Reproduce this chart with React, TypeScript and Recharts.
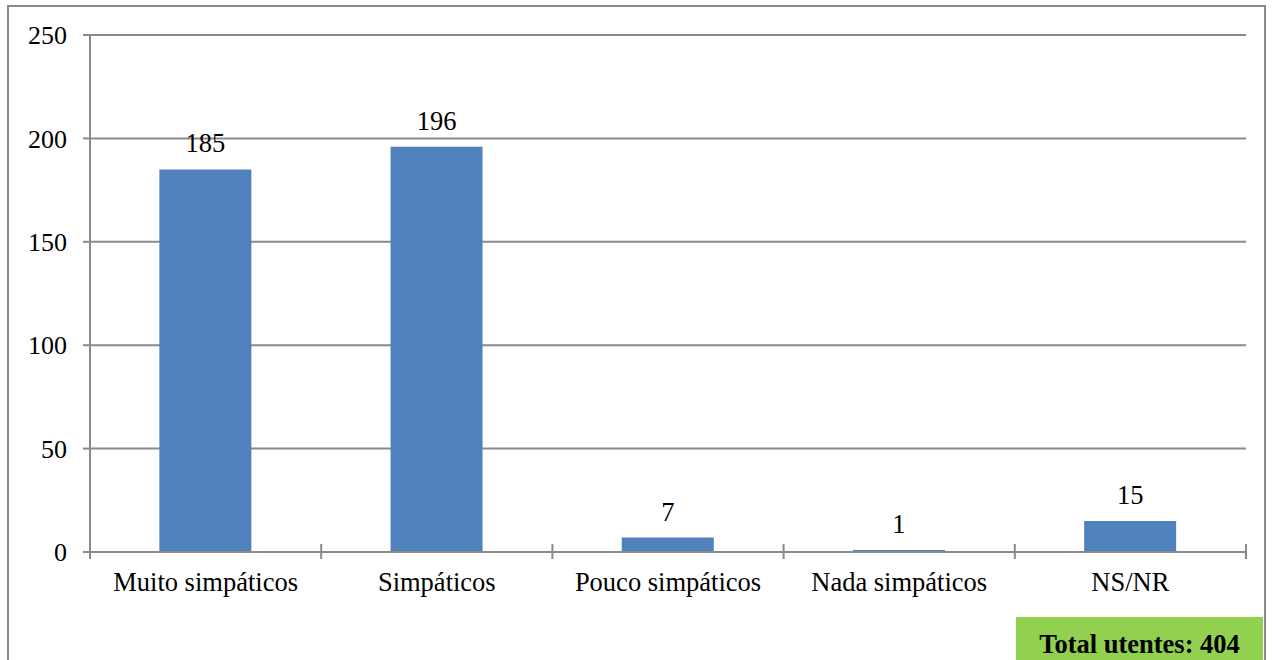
import { BarChart, Bar, XAxis, YAxis, CartesianGrid, LabelList } from "recharts";

const categories = [
  "Muito simpáticos",
  "Simpáticos",
  "Pouco simpáticos",
  "Nada simpáticos",
  "NS/NR",
];
const values = [185, 196, 7, 1, 15];
const yTicks = [0, 50, 100, 150, 200, 250];
const totalLabel = "Total utentes: 404";

const FONT = "'Liberation Serif', 'Times New Roman', serif";
const GRID = "#8a8a8a";

const W = 1272;
const H = 660;
const margin = { top: 35, right: 26, bottom: 48, left: 0 };
const Y_WIDTH = 90;
const bandWidth = (W - margin.left - Y_WIDTH - margin.right) / categories.length;

// category labels plus the boundary tick marks Excel draws between bars
function CategoryTick(props: any) {
  const { x, y, payload, index } = props;
  const left = x - bandWidth / 2;
  const right = x + bandWidth / 2;
  return (
    <g>
      <line x1={left} x2={left} y1={y - 8} y2={y + 7} stroke={GRID} strokeWidth={2} />
      {index === categories.length - 1 && (
        <line x1={right} x2={right} y1={y - 8} y2={y + 7} stroke={GRID} strokeWidth={2} />
      )}
      <text
        x={x}
        y={y + 39}
        textAnchor="middle"
        fill="#000"
        fontSize={26.5}
        style={{ fontFamily: FONT }}
      >
        {payload.value}
      </text>
    </g>
  );
}

export default function App() {
  const data = categories.map((name, i) => ({ name, value: values[i] }));

  return (
    <div style={{ position: "relative", width: W, height: H, overflow: "hidden", background: "#fff" }}>
      <style>{`body{margin:0} .recharts-wrapper text{font-family:${FONT} !important}`}</style>
      <div
        style={{
          position: "absolute",
          left: 7,
          top: 5,
          width: 1255,
          height: 720,
          border: `2px solid ${GRID}`,
          borderBottom: "none",
        }}
      />
      <div style={{ position: "absolute", left: 0, top: 0 }}>
        <BarChart width={W} height={H} data={data} margin={margin} barCategoryGap="30%">
          <CartesianGrid vertical={false} stroke={GRID} strokeWidth={2} />
          <XAxis
            dataKey="name"
            height={60}
            stroke={GRID}
            strokeWidth={2}
            tickLine={false}
            tickSize={0}
            tickMargin={0}
            interval={0}
            tick={<CategoryTick />}
          />
          <YAxis
            width={Y_WIDTH}
            domain={[0, 250]}
            ticks={yTicks}
            interval={0}
            stroke={GRID}
            strokeWidth={2}
            tickSize={7}
            tickMargin={16}
            tick={{ fill: "#000", fontSize: 26, fontFamily: FONT }}
          />
          <Bar dataKey="value" fill="#4f81bd" isAnimationActive={false}>
            <LabelList
              dataKey="value"
              position="top"
              offset={17}
              fill="#000"
              fontSize={26.5}
              fontFamily={FONT}
            />
          </Bar>
        </BarChart>
      </div>
      <div
        style={{
          position: "absolute",
          left: 1016,
          top: 617,
          width: 247,
          height: 60,
          background: "#92d050",
          fontFamily: FONT,
          fontWeight: "bold",
          fontSize: 26.5,
          color: "#000",
          textAlign: "center",
          lineHeight: "55px",
        }}
      >
        {totalLabel}
      </div>
    </div>
  );
}
